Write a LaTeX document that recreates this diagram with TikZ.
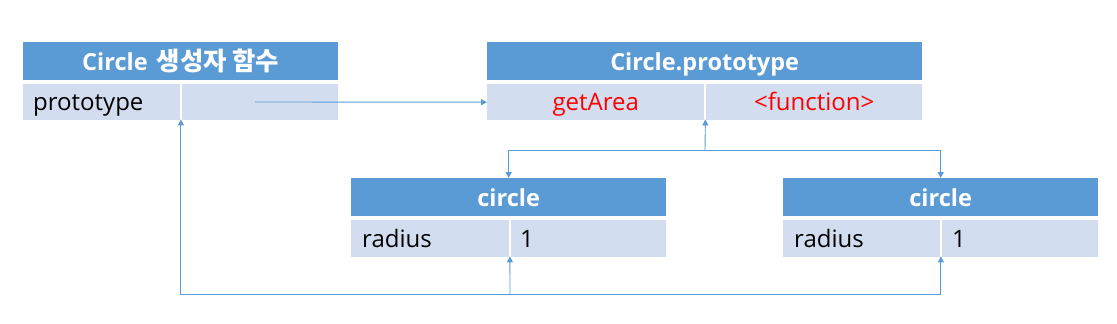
\documentclass[tikz,border=0pt]{standalone}
\usepackage{fontspec}
\setmainfont{Open Sans}
\newfontfamily\kr{Noto Sans CJK KR}[Scale=1.08]
\usetikzlibrary{arrows.meta}
\definecolor{hdr}{HTML}{5B9BD5}
\definecolor{rowc}{HTML}{D2DEEF}
\definecolor{lnc}{HTML}{5B9BD5}
\begin{document}
\begin{tikzpicture}[x=1pt,y=-1pt,
  hbox/.style={anchor=north west,fill=hdr,inner sep=0pt,minimum height=38pt,text=white,
    font=\fontsize{23.5}{26}\selectfont\bfseries,text height=23pt,text depth=5pt},
  cell/.style={anchor=north west,fill=rowc,inner sep=0pt,minimum height=36pt,
    font=\fontsize{24}{26}\selectfont,text height=22pt,text depth=5pt},
  lt/.style={anchor=west,inner sep=0pt,font=\fontsize{24}{26}\selectfont,text height=22pt,text depth=5pt},
  arr/.style={draw=lnc,line width=0.9pt,-{Triangle[length=6pt,width=6pt]}}]
\useasboundingbox (0,0) rectangle (1117,324);
% box 1
\node[hbox,minimum width=315pt] (b1h) at (23,42) {Circle\hspace{9pt}{\kr 생성자 함수}};
\node[cell,minimum width=157pt] (b1l) at (23,84) {};
\node[cell,minimum width=156pt] (b1r) at (182,84) {};
\node[lt] (t1) at (33,102) {prototype};
% box 2
\node[hbox,minimum width=435pt] (b2h) at (487,42) {Circle.prototype};
\node[cell,minimum width=217pt,text=red] (b2l) at (487,84) {getArea};
\node[cell,minimum width=216pt,text=red] (b2r) at (706,84) {<function>};
% box 3
\node[hbox,minimum width=315pt] (b3h) at (351,178) {circle};
\node[cell,minimum width=158pt,minimum height=37pt] (b3l) at (351,220) {};
\node[cell,minimum width=155pt,minimum height=37pt] (b3r) at (511,220) {};
\node[lt] (t3a) at (362,238.5) {radius};
\node[lt] (t3b) at (520,238.5) {1};
% box 4
\node[hbox,minimum width=315pt] (b4h) at (783,178) {circle};
\node[cell,minimum width=157pt,minimum height=37pt] (b4l) at (783,220) {};
\node[cell,minimum width=156pt,minimum height=37pt] (b4r) at (942,220) {};
\node[lt] (t4a) at (794,238.5) {radius};
\node[lt] (t4b) at (952,238.5) {1};
% connectors
\coordinate (p1) at (255,102);
\draw[arr] (p1) -- (b2l.west);
\coordinate (j) at (705,150);
\draw[arr] (j) -- ([xshift=1pt,yshift=1pt]b2l.south east);
\draw[arr] (j) -| (b3h.north);
\draw[arr] (j) -| (b4h.north);
\coordinate (m) at (510,294);
\draw[arr] (m) -| ([xshift=0.5pt,yshift=1pt]b1l.south east);
\draw[arr] (m) -- ([xshift=0.5pt,yshift=1pt]b3l.south east);
\draw[arr] (m) -| ([xshift=0.5pt,yshift=1pt]b4l.south east);
\end{tikzpicture}
\end{document}
